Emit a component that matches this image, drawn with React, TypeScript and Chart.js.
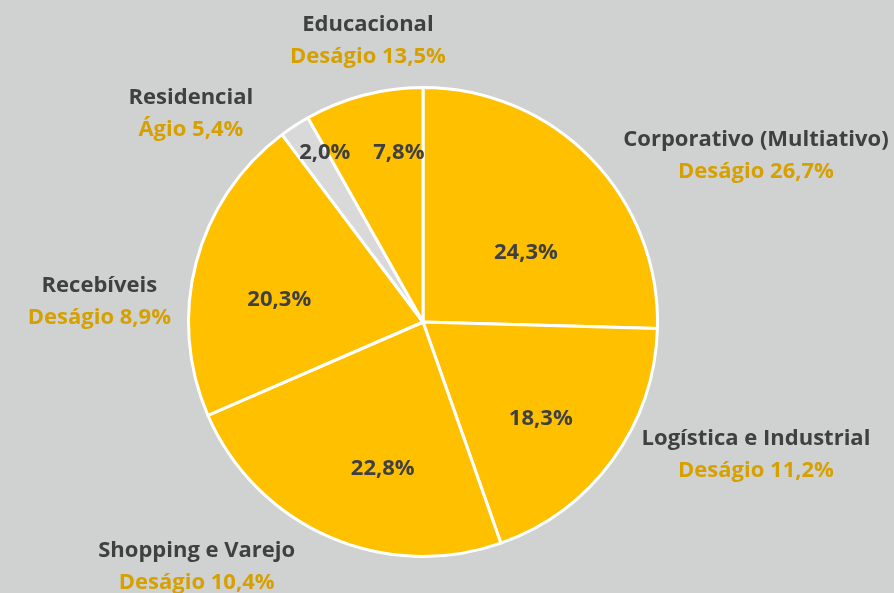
import React, { useEffect, useRef } from "react";
import { Chart, registerables } from "chart.js";

Chart.register(...registerables);

const categories = [
  "Corporativo (Multiativo)",
  "Logística e Industrial",
  "Shopping e Varejo",
  "Recebíveis",
  "Residencial",
  "Educacional",
];
const shares = [24.3, 18.3, 22.8, 20.3, 2.0, 7.8];
const shareLabels = ["24,3%", "18,3%", "22,8%", "20,3%", "2,0%", "7,8%"];
const discountLabels = [
  "Deságio 26,7%",
  "Deságio 11,2%",
  "Deságio 10,4%",
  "Deságio 8,9%",
  "Ágio 5,4%",
  "Deságio 13,5%",
];

// layout of labels: polar placement relative to pie (angle from top clockwise in degrees, radius factor)
const innerPlacement = [
  [55.9, 0.53],
  [129.4, 0.65],
  [195.3, 0.65],
  [278.7, 0.62],
  [329.9, 0.835],
  [351.9, 0.73],
];
// outside labels: offsets from centre in radius units (dx, dy of the block centre)
const outerPlacement = [
  [1.42, -0.708],
  [1.42, 0.565],
  [-0.965, 1.045],
  [-1.38, -0.085],
  [-0.99, -0.887],
  [-0.235, -1.2],
];

const SLICE = "#FFC000";
const GREY_SLICE = "#D9D9D9";
const BG = "#D0D2D1";
const DARK = "#404040";
const GOLD = "#D6A000";
const FONT = "bold 22px 'Open Sans', Lato, sans-serif";

const labelPlugin = {
  id: "sliceLabels",
  afterDraw(chart: any) {
    const meta = chart.getDatasetMeta(0);
    const ctx = chart.ctx;
    const arc0 = meta.data[0];
    if (!arc0) return;
    const cx = arc0.x;
    const cy = arc0.y;
    const R = arc0.outerRadius;
    ctx.save();
    ctx.font = FONT;
    ctx.textAlign = "center";
    ctx.textBaseline = "middle";
    meta.data.forEach((_: any, i: number) => {
      const [ang, rf] = innerPlacement[i];
      const a = (ang * Math.PI) / 180;
      ctx.fillStyle = DARK;
      ctx.fillText(shareLabels[i], cx + Math.sin(a) * rf * R, cy - Math.cos(a) * rf * R);
      const [ox, oy] = outerPlacement[i];
      const bx = cx + ox * R;
      const by = cy + oy * R;
      ctx.fillStyle = DARK;
      ctx.fillText(categories[i], bx, by - 16);
      ctx.fillStyle = GOLD;
      ctx.fillText(discountLabels[i], bx, by + 16);
    });
    ctx.restore();
  },
};

export default function App() {
  const ref = useRef<HTMLCanvasElement>(null);
  useEffect(() => {
    document.body.style.margin = "0";
    document.body.style.background = BG;
    const chart = new Chart(ref.current!, {
      type: "pie",
      data: {
        labels: categories,
        datasets: [
          {
            data: shares,
            backgroundColor: categories.map((_, i) => (i === 4 ? GREY_SLICE : SLICE)),
            borderColor: "#FFFFFF",
            borderWidth: 3,
          },
        ],
      },
      options: {
        animation: false,
        responsive: false,
        layout: { padding: { left: 187, right: 235, top: 86, bottom: 35 } },
        plugins: {
          legend: { display: false },
          tooltip: { enabled: false },
        },
      },
      plugins: [labelPlugin],
    });
    return () => chart.destroy();
  }, []);
  return (
    <div style={{ width: 894, height: 593, background: BG }}>
      <canvas ref={ref} width={894} height={593} style={{ display: "block" }} />
    </div>
  );
}
